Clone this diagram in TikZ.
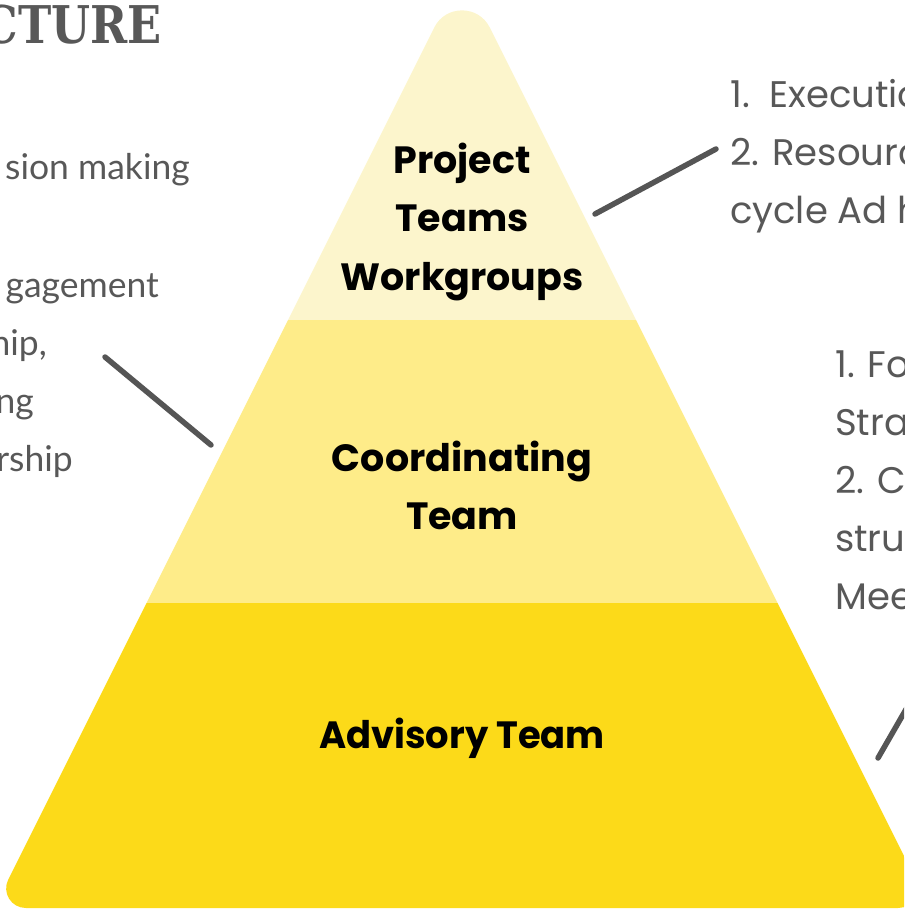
\documentclass[tikz,border=0pt]{standalone}
\usepackage{fontspec}
\setmainfont{Poppins}
\newfontfamily\leftfont{Lato}
\newfontfamily\rightfont{Poppins}
\newfontfamily\titlefont{DejaVu Serif}
\definecolor{topband}{HTML}{FCF5CC}
\definecolor{midband}{HTML}{FEEC89}
\definecolor{lowband}{HTML}{FCDA19}
\definecolor{txtgray}{HTML}{585858}
\definecolor{linegray}{HTML}{555555}
\tikzset{
  label/.style={anchor=base, text=black, font=\bfseries\fontsize{38}{38}\selectfont, inner sep=0pt},
  lefttext/.style={anchor=base east, text=txtgray, font=\leftfont\fontsize{35.5}{35.5}\selectfont, inner sep=0pt},
  righttext/.style={anchor=base west, text=txtgray, font=\rightfont\fontsize{37}{37}\selectfont, inner sep=0pt},
  pointer/.style={draw=linegray, line width=5.5pt, line cap=round}
}
\begin{document}
\begin{tikzpicture}[x=1pt,y=-1pt]
\useasboundingbox (0,0) rectangle (904,909);
\clip (0,0) rectangle (904,909);
% pyramid
\begin{scope}
\clip (434.3,27.4) .. controls (445.7,4.7) and (478.3,4.7) .. (489.7,27.4)
  -- (915.7,879.4) .. controls (922.35,892.7) and (912.9,908) .. (898,908)
  -- (26,908) .. controls (11.1,908) and (1.65,892.7) .. (8.3,879.4) -- cycle;
\fill[topband] (-10,-40) rectangle (940,320);
\fill[midband] (-10,320) rectangle (940,603);
\fill[lowband] (-10,603) rectangle (940,920);
\end{scope}
% title
\node[anchor=base east, inner sep=0pt, text=txtgray, font=\titlefont\bfseries\fontsize{52}{52}\selectfont] (title) at (162,44) {\scalebox{0.86}[1]{CTURE}};
% pyramid labels
\node[label] (p1) at (462,174) {Project};
\node[label] (p2) at (462,232) {Teams};
\node[label] (p3) at (462,290) {Workgroups};
\node[label] (c1) at (462,471) {Coordinating};
\node[label] (c2) at (462,529) {Team};
\node[label] (a1) at (462,748) {\scalebox{0.97}[1]{Advisory Team}};
% left text
\node[lefttext] (l1) at (190,180) {sion making};
\node[lefttext] (l2) at (159,297) {gagement};
\node[lefttext] (l3) at (47,355) {hip,};
\node[lefttext] (l4) at (34,413) {ng};
\node[lefttext] (l5) at (73,471) {rship};
% right top text
\node[righttext] (r1) at (730,108) {1.\ \ Executio};
\node[righttext] (r2) at (730,166) {2. Resourc};
\node[righttext] (r3) at (730,224) {cycle Ad h};
% right middle text
\node[righttext] (m1) at (835,377) {1. Fo};
\node[righttext] (m2) at (835,435) {Strat};
\node[righttext] (m3) at (835,493) {2. C};
\node[righttext] (m4) at (835,551) {struc};
\node[righttext] (m5) at (835,609) {Mee};
% pointers
\coordinate (ta) at (595,214);
\coordinate (tb) at (716,149);
\coordinate (la) at (105,357);
\coordinate (lb) at (211,445);
\coordinate (ba) at (878,758);
\coordinate (bb) at (916,692);
\draw[pointer] (ta) -- (tb);
\draw[pointer] (la) -- (lb);
\draw[pointer] (ba) -- (bb);
\end{tikzpicture}
\end{document}
